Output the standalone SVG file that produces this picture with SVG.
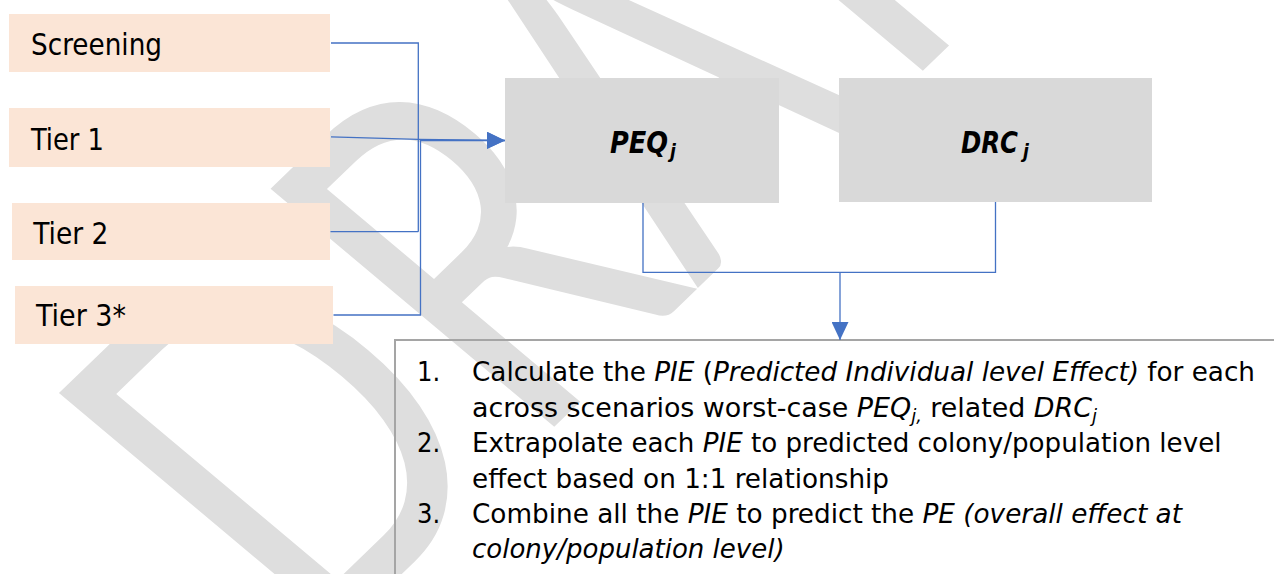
<svg xmlns="http://www.w3.org/2000/svg" width="1274" height="574" viewBox="0 0 1274 574">
  <defs>
    <style>
      .wm { font-family: Lato, "Open Sans", "Noto Sans", sans-serif; font-size: 514px; fill: #dedede; }
      .src { fill: #fbe5d6; }
      .calc { fill: #d9d9d9; }
      .lbl { font-family: "DejaVu Sans", "DejaVu Sans Condensed", sans-serif; font-stretch: condensed; font-size: 31px; fill: #000; }
      .var { font-family: "DejaVu Sans", "DejaVu Sans Condensed", sans-serif; font-stretch: condensed; font-size: 30px; font-weight: bold; font-style: italic; fill: #000; }
      .sub { font-size: 19px; }
      .step { font-family: "DejaVu Sans", "DejaVu Sans Condensed", sans-serif; font-stretch: condensed; font-size: 27px; fill: #000; }
      .it { font-style: italic; }
      .link { fill: none; stroke: #4472c4; stroke-width: 1.3; }
      .panel { fill: none; stroke: #a5a5a5; stroke-width: 2; }
    </style>
    <marker id="arrow" markerUnits="userSpaceOnUse" markerWidth="18" markerHeight="17" refX="18" refY="8.5" orient="auto">
      <path d="M0,0 L18,8.5 L0,17 z" fill="#4472c4"/>
    </marker>
  </defs>

  <rect width="1274" height="574" fill="#ffffff"/>

  <!-- background watermark -->
  <g id="watermark">
    <text class="wm" x="-310 93 412 795 1096" y="0" transform="translate(480.7,497.8) rotate(-44) skewX(6) scale(0.73,1)">DRAFT</text>
  </g>

  <!-- input tiers -->
  <g id="node-screening">
    <rect class="src" x="9" y="14" width="321" height="58"/>
    <text class="lbl" x="31" y="55" textLength="131" lengthAdjust="spacingAndGlyphs">Screening</text>
  </g>
  <g id="node-tier1">
    <rect class="src" x="9" y="108" width="321" height="59"/>
    <text class="lbl" x="31" y="150" textLength="73" lengthAdjust="spacingAndGlyphs">Tier 1</text>
  </g>
  <g id="node-tier2">
    <rect class="src" x="12" y="203" width="318" height="57"/>
    <text class="lbl" x="33.3" y="244.3" textLength="75" lengthAdjust="spacingAndGlyphs">Tier 2</text>
  </g>
  <g id="node-tier3">
    <rect class="src" x="15" y="286" width="318" height="58"/>
    <text class="lbl" x="36" y="326" textLength="90" lengthAdjust="spacingAndGlyphs">Tier 3*</text>
  </g>

  <!-- exposure and dose-response boxes -->
  <g id="node-peq">
    <rect class="calc" x="505" y="78" width="274" height="125"/>
    <text class="var" x="610" y="153"><tspan textLength="58" lengthAdjust="spacingAndGlyphs">PEQ</tspan><tspan class="sub" x="670" y="157.5">j</tspan></text>
  </g>
  <g id="node-drc">
    <rect class="calc" x="839" y="78" width="313" height="124"/>
    <text class="var" x="961" y="153"><tspan textLength="57" lengthAdjust="spacingAndGlyphs">DRC</tspan><tspan class="sub" x="1023" y="157.5">j</tspan></text>
  </g>

  <!-- calculation steps -->
  <g id="node-steps">
    <path class="panel" d="M395,576 V340 H1276"/>
    <text class="step" x="417" y="380.7">1.</text>
    <text class="step" x="472" y="380.7" textLength="783" lengthAdjust="spacingAndGlyphs">Calculate the <tspan class="it">PIE</tspan> (<tspan class="it">Predicted Individual level Effect)</tspan> for each</text>
    <text class="step" x="472" y="416.7" textLength="625" lengthAdjust="spacingAndGlyphs">across scenarios worst-case <tspan class="it">PEQ</tspan><tspan class="it" font-size="18" dy="5">j,</tspan><tspan dy="-5"> related </tspan><tspan class="it">DRC</tspan><tspan class="it" font-size="18" dy="5">j</tspan></text>
    <text class="step" x="417" y="451.7">2.</text>
    <text class="step" x="472" y="451.7" textLength="749.5" lengthAdjust="spacingAndGlyphs">Extrapolate each <tspan class="it">PIE</tspan> to predicted colony/population level</text>
    <text class="step" x="472" y="488" textLength="417" lengthAdjust="spacingAndGlyphs">effect based on 1:1 relationship</text>
    <text class="step" x="417" y="523.3">3.</text>
    <text class="step" x="472" y="523.3" textLength="710" lengthAdjust="spacingAndGlyphs">Combine all the <tspan class="it">PIE</tspan> to predict the <tspan class="it">PE (overall effect at</tspan></text>
    <text class="step it" x="472" y="558.3" textLength="312.6" lengthAdjust="spacingAndGlyphs">colony/population level)</text>
  </g>

  <!-- connectors -->
  <g id="connectors">
    <path class="link" d="M331,43 H418.3 V231.7"/>
    <path class="link" d="M330.5,231.7 H418.3"/>
    <path class="link" d="M331,136.8 L418.5,139.3 L505,140.5" marker-end="url(#arrow)"/>
    <path class="link" d="M333.5,315 H420.5 V140.5 H505" marker-end="url(#arrow)"/>
    <path class="link" d="M643,203 V272.3 H995.5 V202"/>
    <path class="link" d="M840,272.3 V340" marker-end="url(#arrow)"/>
  </g>
</svg>
